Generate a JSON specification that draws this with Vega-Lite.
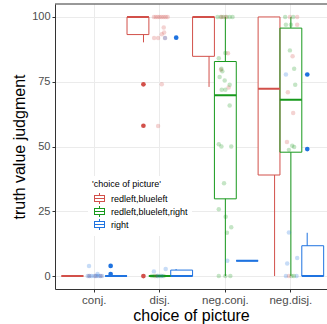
{
  "$schema": "https://vega.github.io/schema/vega-lite/v6.json",
  "width": 272,
  "height": 285,
  "autosize": "none",
  "padding": {"left": 55, "top": 4, "right": 0, "bottom": 35},
  "config": {"view": {"stroke": null}, "font": "Liberation Sans"},
  "datasets": {
    "boxes": [
      {"cat": "conj.", "grp": "redleft,blueleft", "lo": 0, "q1": 0, "med": 0, "q3": 0, "hi": 0},
      {"cat": "conj.", "grp": "right", "lo": 0, "q1": 0, "med": 0, "q3": 0, "hi": 0},
      {"cat": "disj.", "grp": "redleft,blueleft", "lo": 90.2, "q1": 93.2, "med": 100, "q3": 100, "hi": 100},
      {"cat": "disj.", "grp": "redleft,blueleft,right", "lo": 0, "q1": 0, "med": 0, "q3": 0, "hi": 0},
      {"cat": "disj.", "grp": "right", "lo": 0, "q1": 0, "med": 0, "q3": 2.3, "hi": 2.7},
      {"cat": "neg.conj.", "grp": "redleft,blueleft", "lo": 73, "q1": 84.8, "med": 100, "q3": 100, "hi": 100},
      {"cat": "neg.conj.", "grp": "redleft,blueleft,right", "lo": 0, "q1": 29.8, "med": 69.8, "q3": 82.8, "hi": 100},
      {"cat": "neg.conj.", "grp": "right", "lo": 5.9, "q1": 5.9, "med": 5.9, "q3": 5.9, "hi": 5.9},
      {"cat": "neg.disj.", "grp": "redleft,blueleft", "lo": 0, "q1": 39, "med": 72.3, "q3": 100, "hi": 100},
      {"cat": "neg.disj.", "grp": "redleft,blueleft,right", "lo": 0, "q1": 47.8, "med": 68, "q3": 95.7, "hi": 100},
      {"cat": "neg.disj.", "grp": "right", "lo": 0, "q1": 0, "med": 0, "q3": 11.7, "hi": 16.7}
    ],
    "outs": [
      {"cat": "conj.", "grp": "right", "val": 3.9},
      {"cat": "conj.", "grp": "right", "val": 0.8},
      {"cat": "disj.", "grp": "redleft,blueleft", "val": 74},
      {"cat": "disj.", "grp": "redleft,blueleft", "val": 58},
      {"cat": "disj.", "grp": "redleft,blueleft", "val": 0},
      {"cat": "disj.", "grp": "right", "val": 92},
      {"cat": "neg.disj.", "grp": "right", "val": 77.8},
      {"cat": "neg.disj.", "grp": "right", "val": 49}
    ],
    "pts": [
      {"cat": "conj.", "grp": "redleft,blueleft", "val": 0, "jit": -0.08},
      {"cat": "conj.", "grp": "redleft,blueleft", "val": 0, "jit": 0.02},
      {"cat": "conj.", "grp": "redleft,blueleft", "val": 0, "jit": 0.1},
      {"cat": "conj.", "grp": "right", "val": 0, "jit": -0.1},
      {"cat": "conj.", "grp": "right", "val": 0, "jit": -0.07},
      {"cat": "conj.", "grp": "right", "val": 0, "jit": -0.04},
      {"cat": "conj.", "grp": "right", "val": 0, "jit": 0},
      {"cat": "conj.", "grp": "right", "val": 0, "jit": 0.03},
      {"cat": "conj.", "grp": "right", "val": 0, "jit": 0.06},
      {"cat": "conj.", "grp": "right", "val": 0, "jit": 0.09},
      {"cat": "conj.", "grp": "right", "val": 0, "jit": 0.12},
      {"cat": "conj.", "grp": "right", "val": 3.9, "jit": -0.08},
      {"cat": "conj.", "grp": "right", "val": 0.8, "jit": 0.05},
      {"cat": "disj.", "grp": "redleft,blueleft", "val": 100, "jit": -0.09},
      {"cat": "disj.", "grp": "redleft,blueleft", "val": 100, "jit": -0.06},
      {"cat": "disj.", "grp": "redleft,blueleft", "val": 100, "jit": -0.03},
      {"cat": "disj.", "grp": "redleft,blueleft", "val": 100, "jit": 0},
      {"cat": "disj.", "grp": "redleft,blueleft", "val": 100, "jit": 0.03},
      {"cat": "disj.", "grp": "redleft,blueleft", "val": 100, "jit": 0.06},
      {"cat": "disj.", "grp": "redleft,blueleft", "val": 100, "jit": 0.09},
      {"cat": "disj.", "grp": "redleft,blueleft", "val": 100, "jit": 0.12},
      {"cat": "disj.", "grp": "redleft,blueleft", "val": 95.9, "jit": 0.06},
      {"cat": "disj.", "grp": "redleft,blueleft", "val": 94, "jit": 0.066},
      {"cat": "disj.", "grp": "redleft,blueleft", "val": 93.3, "jit": 0.03},
      {"cat": "disj.", "grp": "redleft,blueleft", "val": 91.9, "jit": -0.087},
      {"cat": "disj.", "grp": "redleft,blueleft", "val": 91.9, "jit": -0.026},
      {"cat": "disj.", "grp": "redleft,blueleft", "val": 91.9, "jit": 0.08},
      {"cat": "disj.", "grp": "right", "val": 91.9, "jit": 0.08},
      {"cat": "disj.", "grp": "redleft,blueleft", "val": 74, "jit": 0.03},
      {"cat": "disj.", "grp": "redleft,blueleft", "val": 57.9, "jit": -0.026},
      {"cat": "disj.", "grp": "redleft,blueleft", "val": 0, "jit": -0.06},
      {"cat": "disj.", "grp": "redleft,blueleft,right", "val": 0, "jit": -0.12},
      {"cat": "disj.", "grp": "redleft,blueleft,right", "val": 0, "jit": -0.08},
      {"cat": "disj.", "grp": "redleft,blueleft,right", "val": 0, "jit": -0.03},
      {"cat": "disj.", "grp": "redleft,blueleft,right", "val": 0, "jit": 0.015},
      {"cat": "disj.", "grp": "redleft,blueleft,right", "val": 0, "jit": 0.06},
      {"cat": "disj.", "grp": "right", "val": 1.8, "jit": -0.09},
      {"cat": "disj.", "grp": "right", "val": 2.7, "jit": 0.09},
      {"cat": "disj.", "grp": "right", "val": 0, "jit": -0.03},
      {"cat": "disj.", "grp": "right", "val": 0, "jit": 0.03},
      {"cat": "neg.conj.", "grp": "redleft,blueleft,right", "val": 100, "jit": -0.12},
      {"cat": "neg.conj.", "grp": "redleft,blueleft,right", "val": 100, "jit": -0.07},
      {"cat": "neg.conj.", "grp": "redleft,blueleft,right", "val": 100, "jit": -0.03},
      {"cat": "neg.conj.", "grp": "redleft,blueleft,right", "val": 100, "jit": 0.02},
      {"cat": "neg.conj.", "grp": "redleft,blueleft,right", "val": 100, "jit": 0.066},
      {"cat": "neg.conj.", "grp": "redleft,blueleft,right", "val": 100, "jit": 0.11},
      {"cat": "neg.conj.", "grp": "redleft,blueleft", "val": 100, "jit": -0.056},
      {"cat": "neg.conj.", "grp": "redleft,blueleft", "val": 100, "jit": 0.005},
      {"cat": "neg.conj.", "grp": "redleft,blueleft", "val": 79.6, "jit": -0.067},
      {"cat": "neg.conj.", "grp": "redleft,blueleft", "val": 72.8, "jit": 0.05},
      {"cat": "neg.conj.", "grp": "redleft,blueleft", "val": 86, "jit": 0.04},
      {"cat": "neg.conj.", "grp": "redleft,blueleft,right", "val": 86.1, "jit": 0},
      {"cat": "neg.conj.", "grp": "redleft,blueleft,right", "val": 84.1, "jit": -0.1},
      {"cat": "neg.conj.", "grp": "redleft,blueleft,right", "val": 80, "jit": -0.06},
      {"cat": "neg.conj.", "grp": "redleft,blueleft,right", "val": 79, "jit": -0.046},
      {"cat": "neg.conj.", "grp": "redleft,blueleft,right", "val": 76.8, "jit": -0.087},
      {"cat": "neg.conj.", "grp": "redleft,blueleft,right", "val": 75.5, "jit": -0.01},
      {"cat": "neg.conj.", "grp": "redleft,blueleft,right", "val": 73.8, "jit": 0.066},
      {"cat": "neg.conj.", "grp": "redleft,blueleft,right", "val": 71.9, "jit": -0.056},
      {"cat": "neg.conj.", "grp": "redleft,blueleft,right", "val": 71.9, "jit": 0},
      {"cat": "neg.conj.", "grp": "redleft,blueleft,right", "val": 65.8, "jit": 0.066},
      {"cat": "neg.conj.", "grp": "redleft,blueleft,right", "val": 50.9, "jit": -0.1},
      {"cat": "neg.conj.", "grp": "redleft,blueleft,right", "val": 50, "jit": -0.06},
      {"cat": "neg.conj.", "grp": "redleft,blueleft,right", "val": 50, "jit": 0.09},
      {"cat": "neg.conj.", "grp": "redleft,blueleft,right", "val": 35.8, "jit": -0.02},
      {"cat": "neg.conj.", "grp": "redleft,blueleft,right", "val": 25.8, "jit": -0.1},
      {"cat": "neg.conj.", "grp": "redleft,blueleft,right", "val": 22.9, "jit": 0.005},
      {"cat": "neg.conj.", "grp": "redleft,blueleft,right", "val": 18.8, "jit": 0.09},
      {"cat": "neg.conj.", "grp": "redleft,blueleft,right", "val": 16.7, "jit": 0.025},
      {"cat": "neg.conj.", "grp": "redleft,blueleft,right", "val": 0, "jit": -0.1},
      {"cat": "neg.conj.", "grp": "redleft,blueleft,right", "val": 0, "jit": 0},
      {"cat": "neg.conj.", "grp": "redleft,blueleft,right", "val": 0, "jit": 0.076},
      {"cat": "neg.conj.", "grp": "right", "val": 5.9, "jit": 0.03},
      {"cat": "neg.disj.", "grp": "redleft,blueleft,right", "val": 100, "jit": -0.087},
      {"cat": "neg.disj.", "grp": "redleft,blueleft", "val": 100, "jit": -0.015},
      {"cat": "neg.disj.", "grp": "redleft,blueleft,right", "val": 100, "jit": 0.035},
      {"cat": "neg.disj.", "grp": "redleft,blueleft", "val": 100, "jit": 0.096},
      {"cat": "neg.disj.", "grp": "redleft,blueleft,right", "val": 97, "jit": -0.076},
      {"cat": "neg.disj.", "grp": "redleft,blueleft,right", "val": 97, "jit": 0},
      {"cat": "neg.disj.", "grp": "redleft,blueleft", "val": 97, "jit": 0.096},
      {"cat": "neg.disj.", "grp": "redleft,blueleft,right", "val": 87.1, "jit": -0.015},
      {"cat": "neg.disj.", "grp": "redleft,blueleft", "val": 84.8, "jit": 0.026},
      {"cat": "neg.disj.", "grp": "redleft,blueleft,right", "val": 80, "jit": 0.05},
      {"cat": "neg.disj.", "grp": "right", "val": 77.8, "jit": -0.076},
      {"cat": "neg.disj.", "grp": "redleft,blueleft,right", "val": 73.8, "jit": 0.066},
      {"cat": "neg.disj.", "grp": "redleft,blueleft", "val": 70.9, "jit": -0.046},
      {"cat": "neg.disj.", "grp": "redleft,blueleft", "val": 62.9, "jit": 0.035},
      {"cat": "neg.disj.", "grp": "redleft,blueleft", "val": 51.7, "jit": -0.06},
      {"cat": "neg.disj.", "grp": "redleft,blueleft,right", "val": 50.3, "jit": 0.02},
      {"cat": "neg.disj.", "grp": "redleft,blueleft,right", "val": 49.8, "jit": 0.05},
      {"cat": "neg.disj.", "grp": "redleft,blueleft,right", "val": 48.7, "jit": -0.03},
      {"cat": "neg.disj.", "grp": "right", "val": 16.8, "jit": -0.03},
      {"cat": "neg.disj.", "grp": "right", "val": 7, "jit": 0.096},
      {"cat": "neg.disj.", "grp": "right", "val": 4.8, "jit": -0.056},
      {"cat": "neg.disj.", "grp": "right", "val": 0, "jit": -0.076},
      {"cat": "neg.disj.", "grp": "redleft,blueleft,right", "val": 0, "jit": 0.01},
      {"cat": "neg.disj.", "grp": "right", "val": 0, "jit": 0.087},
      {"cat": "neg.disj.", "grp": "redleft,blueleft", "val": 0, "jit": -0.03},
      {"cat": "neg.disj.", "grp": "redleft,blueleft,right", "val": 0, "jit": 0.046}
    ]
  },
  "layer": [
    {
      "data": {"name": "boxes"},
      "mark": {"type": "rule", "strokeWidth": 1},
      "encoding": {
        "x": {"field": "cat", "type": "nominal", "title": "choice of picture",
          "scale": {"domain": ["conj.", "disj.", "neg.conj.", "neg.disj."], "paddingInner": 0, "paddingOuter": 0.075, "align": 0.66},
          "axis": {"labelAngle": 0, "grid": true, "gridColor": "#EBEBEB", "gridWidth": 1, "bandPosition": 0.5, "tickColor": "#333333", "tickSize": 3, "domainColor": "#333333", "labelColor": "#4D4D4D", "labelFontSize": 11.5, "labelPadding": 2, "titleFontSize": 16, "titleFontWeight": "normal", "titleColor": "black", "titlePadding": 2}},
        "xOffset": {"field": "grp", "type": "nominal", "scale": {"domain": ["redleft,blueleft", "redleft,blueleft,right", "right"], "paddingInner": 0.08, "paddingOuter": 0.55}},
        "y": {"field": "lo", "type": "quantitative", "title": "truth value judgment",
          "scale": {"domain": [-5, 105], "nice": false, "zero": false},
          "axis": {"values": [0, 12.5, 25, 37.5, 50, 62.5, 75, 87.5, 100], "labelExpr": "datum.value % 25 === 0 ? datum.label : ''",
            "tickOpacity": {"condition": {"test": "datum.value % 25 === 0", "value": 1}, "value": 0},
            "gridWidth": {"condition": {"test": "datum.value % 25 === 0", "value": 1}, "value": 0.5},
            "gridColor": "#EBEBEB", "tickColor": "#333333", "tickSize": 3, "domainColor": "#333333", "labelColor": "#4D4D4D", "labelFontSize": 11, "labelPadding": 2, "titleFontSize": 16, "titleFontWeight": "normal", "titleColor": "black", "titlePadding": 4}},
        "y2": {"field": "hi"},
        "color": {"field": "grp", "type": "nominal",
          "scale": {"domain": ["redleft,blueleft", "redleft,blueleft,right", "right"], "range": ["#D2504A", "#17991C", "#1F73E0"]},
          "legend": {"orient": "none", "legendX": 33, "legendY": 172, "title": "'choice of picture'", "titleFontSize": 9, "titleFontWeight": "normal", "titleColor": "black", "labelFontSize": 9, "labelColor": "black",
            "symbolType": "M-1,-0.6H1 M1,-0.6V0.6 M1,0.6H-1 M-1,0.6V-0.6 M-1,0H1 M0,-0.6V-1 M0,0.6V1", "symbolSize": 100, "symbolStrokeWidth": 1,
            "fillColor": "white", "padding": 4, "rowPadding": -3, "labelOffset": 6, "titlePadding": 4, "symbolOffset": 2,
            "encode": {"symbols": {"update": {"fill": {"value": "transparent"}, "stroke": {"scale": "color", "field": "value"}, "strokeWidth": {"value": 1}, "strokeCap": {"value": "square"}, "opacity": {"value": 1}}}}}}
      }
    },
    {
      "data": {"name": "boxes"},
      "mark": {"type": "bar", "fill": "white", "stroke": null},
      "encoding": {
        "x": {"field": "cat", "type": "nominal", "title": "choice of picture"},
        "xOffset": {"field": "grp", "type": "nominal"},
        "y": {"field": "q1", "type": "quantitative", "title": "truth value judgment"},
        "y2": {"field": "q3"}
      }
    },
    {
      "data": {"name": "boxes"},
      "mark": {"type": "bar", "filled": false, "strokeWidth": 1},
      "encoding": {
        "x": {"field": "cat", "type": "nominal", "title": "choice of picture"},
        "xOffset": {"field": "grp", "type": "nominal"},
        "y": {"field": "q1", "type": "quantitative", "title": "truth value judgment"},
        "y2": {"field": "q3"},
        "color": {"field": "grp", "type": "nominal"}
      }
    },
    {
      "data": {"name": "boxes"},
      "mark": {"type": "bar", "filled": false, "strokeWidth": 2},
      "encoding": {
        "x": {"field": "cat", "type": "nominal", "title": "choice of picture"},
        "xOffset": {"field": "grp", "type": "nominal"},
        "y": {"field": "med", "type": "quantitative", "title": "truth value judgment"},
        "y2": {"field": "med"},
        "color": {"field": "grp", "type": "nominal"}
      }
    },
    {
      "data": {"name": "outs"},
      "mark": {"type": "point", "filled": true, "opacity": 1, "size": 22},
      "encoding": {
        "x": {"field": "cat", "type": "nominal", "title": "choice of picture"},
        "xOffset": {"field": "grp", "type": "nominal"},
        "y": {"field": "val", "type": "quantitative", "title": "truth value judgment"},
        "color": {"field": "grp", "type": "nominal"}
      }
    },
    {
      "data": {"name": "pts"},
      "mark": {"type": "point", "filled": true, "opacity": 0.25, "size": 20},
      "encoding": {
        "x": {"field": "cat", "type": "nominal", "title": "choice of picture"},
        "xOffset": {"field": "jit", "type": "quantitative", "scale": {"domain": [-0.5, 0.5]}},
        "y": {"field": "val", "type": "quantitative", "title": "truth value judgment"},
        "color": {"field": "grp", "type": "nominal"}
      }
    },
    {
      "data": {"values": [{"edge": 105}]},
      "mark": {"type": "rule", "color": "#333333", "strokeWidth": 1},
      "encoding": {
        "y": {"field": "edge", "type": "quantitative", "title": "truth value judgment"}
      }
    }
  ],
  "resolve": {"scale": {"xOffset": "independent"}}
}
